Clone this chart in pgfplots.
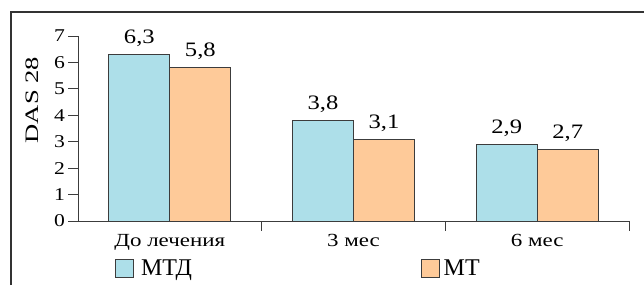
\documentclass[border=0pt]{standalone}
\usepackage{fontspec}
\setmainfont{Liberation Serif}
\newfontfamily\xfont[FakeStretch=1.24]{Liberation Serif}
\newfontfamily\tfont[FakeStretch=1.2]{Liberation Serif}
\newfontfamily\yfont[FakeStretch=1.4]{Liberation Serif}
\usepackage{pgfplots}
\pgfplotsset{compat=1.18}
\definecolor{barblue}{RGB}{173,223,233}
\definecolor{barorange}{RGB}{254,202,153}
\definecolor{edge}{RGB}{60,60,60}
\begin{document}
\begin{tikzpicture}[x=1bp,y=1bp]
\path[use as bounding box] (-78,-64) rectangle (566,221);
\draw[line width=1.2bp, color=black!80] (-67,-64) -- (-67,209) -- (566,209);
\begin{axis}[
  at={(0,0)}, anchor=south west,
  scale only axis, width=551bp, height=185bp,
  xmin=-0.5, xmax=2.5, ymin=0, ymax=7,
  axis x line=bottom, axis y line=left,
  axis line style={-, draw=edge, line width=0.8bp},
  ytick={0,1,...,7},
  xtick={0.5,1.5,2.5}, xticklabels={},
  extra x ticks={0,1,2},
  extra x tick labels={До лечения,3 мес,6 мес},
  extra x tick style={major tick length=0pt,
     tick label style={font=\xfont\fontsize{18.5bp}{18.5bp}\selectfont, yshift=-10bp}},
  tick align=outside, major tick length=9.5bp,
  tick style={draw=edge, line width=0.8bp},
  /pgf/number format/assume math mode=true,
  tick label style={font=\tfont\fontsize{18bp}{18bp}\selectfont},
  ylabel={DAS 28},
  y label style={at={(axis description cs:-0.0825,0.654)}, anchor=center, font=\yfont\fontsize{19bp}{19bp}\selectfont},
  ybar=0pt, bar width=61bp,
  nodes near coords,
  nodes near coords style={font=\tfont\fontsize{20.5bp}{20.5bp}\selectfont, yshift=4bp, /pgf/number format/.cd, use comma, fixed, fixed zerofill, precision=1, assume math mode=true},
  legend columns=2,
  legend style={at={(axis description cs:0.0672,-0.254)}, anchor=west, draw=none, fill=none, inner sep=0pt,
    font=\fontsize{24bp}{24bp}\selectfont,
    /tikz/every even column/.append style={column sep=227bp}},
]
\addplot[fill=barblue, draw=edge, line width=0.8bp,
  legend image code/.code={\draw[fill=barblue, draw=edge, line width=0.8bp] (0bp,-9bp) rectangle (18bp,9bp); \path (23bp,0bp);}]
  coordinates {(0,6.3) (1,3.8) (2,2.9)};
\addplot[fill=barorange, draw=edge, line width=0.8bp,
  legend image code/.code={\draw[fill=barorange, draw=edge, line width=0.8bp] (0bp,-9bp) rectangle (18bp,9bp); \path (20bp,0bp);}]
  coordinates {(0,5.8) (1,3.1) (2,2.7)};
\legend{МТД,МТ}
\end{axis}
\end{tikzpicture}
\end{document}
